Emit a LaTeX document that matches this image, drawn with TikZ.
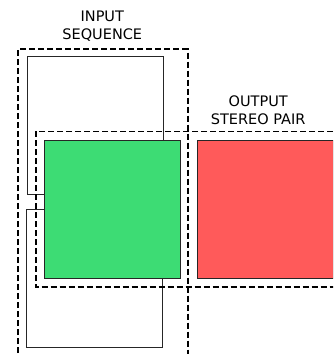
\documentclass[tikz,border=0pt]{standalone}
\usepackage{fontspec}
\setmainfont{DejaVu Sans}
\definecolor{framegreen}{RGB}{61,220,116}
\definecolor{framered}{RGB}{255,90,90}
\begin{document}
\begin{tikzpicture}[x=1pt,y=-1pt,
  frame/.style={draw=black!85, line width=1.1pt, minimum width=136pt, minimum height=138.3pt, inner sep=0pt, anchor=north west},
  group/.style={draw=black, line width=1.7pt, dash pattern=on 6pt off 3pt},
  label/.style={font=\fontsize{14.5}{17.6}\selectfont, inner sep=0pt, anchor=base, text=black}]
\useasboundingbox (0,0) rectangle (333,354);
\clip (0,0) rectangle (333,354);
\node[frame, fill=white] (back) at (26.7,56) {};
\node[frame, fill=white] (front) at (26.2,209) {};
\node[frame, fill=framegreen] (green) at (44.3,140) {};
\node[frame, fill=framered] (red) at (196.7,140) {};
\coordinate (inA) at (18.3,380);
\coordinate (inB) at (187.7,49);
\coordinate (outA) at (35.7,131.5);
\coordinate (outB) at (360,287.3);
\draw[group] (inA) |- (inB) -- (inB |- inA);
\draw[group] (outB |- outA) -| (outA) |- (outB);
\node[label] (in1) at (102.3,21.7) {INPUT};
\node[label] (in2) at (102.3,39.3) {SEQUENCE};
\node[label] (out1) at (258.2,106.7) {OUTPUT};
\node[label] (out2) at (258.2,124.3) {STEREO PAIR};
\end{tikzpicture}
\end{document}
